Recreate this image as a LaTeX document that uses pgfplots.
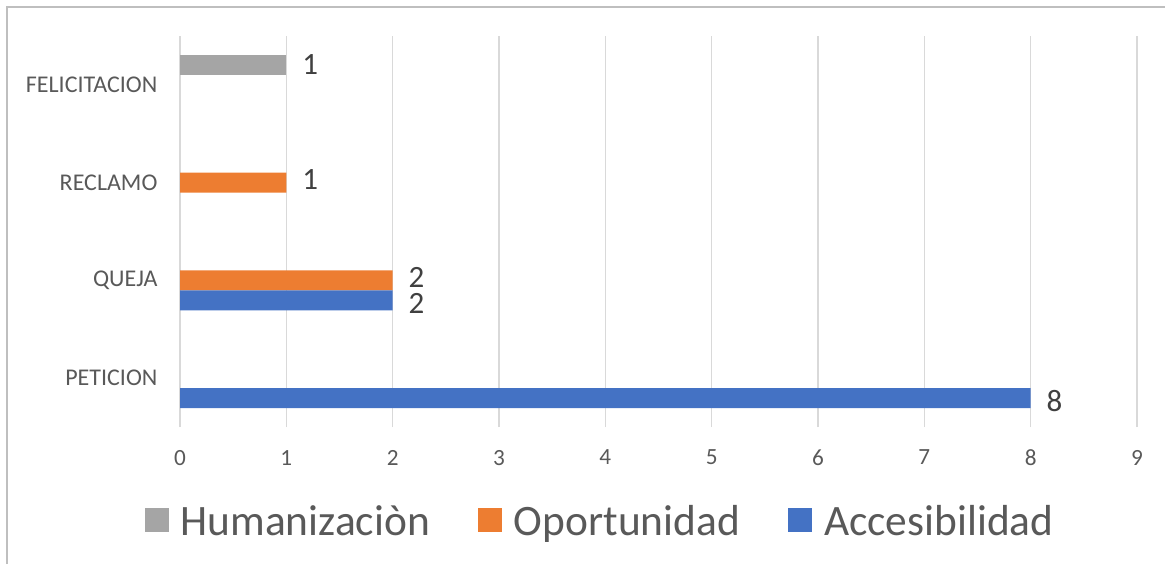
\documentclass[border=0pt]{standalone}
\usepackage{fontspec}
\setmainfont{Carlito}
\usepackage{pgfplots}
\pgfplotsset{compat=1.18}
\definecolor{accblue}{HTML}{4472C4}
\definecolor{oporange}{HTML}{ED7D31}
\definecolor{humgray}{HTML}{A5A5A5}
\definecolor{txtgray}{HTML}{595959}
\definecolor{lblgray}{HTML}{404040}
\definecolor{gridgray}{HTML}{D9D9D9}
\definecolor{framegray}{HTML}{BFBFBF}
\begin{document}
\begin{tikzpicture}
\useasboundingbox (0,0) rectangle (582.5pt,282pt);
\draw[framegray, line width=0.8pt] (3.5pt,0) -- (3.5pt,278.5pt) -- (582.5pt,278.5pt);
\begin{axis}[
    at={(90pt,68.5pt)}, anchor=south west,
    scale only axis,
    width=478.5pt, height=195.5pt,
    xbar, bar width=10pt,
    xmin=0, xmax=9, ymin=-0.5, ymax=3.5,
    xtick={0,...,9},
    ytick={0,1,2,3},
    yticklabels={PETICION, QUEJA, RECLAMO, FELICITACION},
    axis line style={draw=none},
    tick style={draw=none},
    xmajorgrids, grid style={gridgray, line width=0.75pt},
    /pgf/number format/assume math mode=true,
    xticklabel style={font=\fontsize{11.6pt}{13pt}\selectfont, text=txtgray, yshift=-8pt},
    yticklabel style={font=\fontsize{12pt}{14pt}\selectfont, text=txtgray, xshift=-3.5pt},
    nodes near coords,
    every node near coord/.append style={font=\fontsize{15.5pt}{17pt}\selectfont, text=lblgray,
        anchor=west, xshift=4.5pt, inner ysep=0pt},
    legend style={at={(0.44,-0.243)}, anchor=center, draw=none,
        font=\fontsize{21.7pt}{24pt}\selectfont, text=txtgray},
    legend columns=-1,
    legend image code/.code={\fill[#1] (0pt,-5pt) rectangle (12pt,7pt);},
    /tikz/every odd column/.append style={column sep=4pt},
    /tikz/every even column/.append style={column sep=22pt},
]
\addplot[fill=humgray, draw=none, bar shift=10pt] coordinates {(1,3)};
\addplot[fill=oporange, draw=none, bar shift=0pt,
    every node near coord/.append style={yshift=1.5pt}] coordinates {(2,1) (1,2)};
\addplot[fill=accblue, draw=none, bar shift=-10pt,
    every node near coord/.append style={yshift=-1.5pt}] coordinates {(8,0) (2,1)};
\legend{Humanizaciòn, Oportunidad, Accesibilidad}
\end{axis}
\end{tikzpicture}
\end{document}
